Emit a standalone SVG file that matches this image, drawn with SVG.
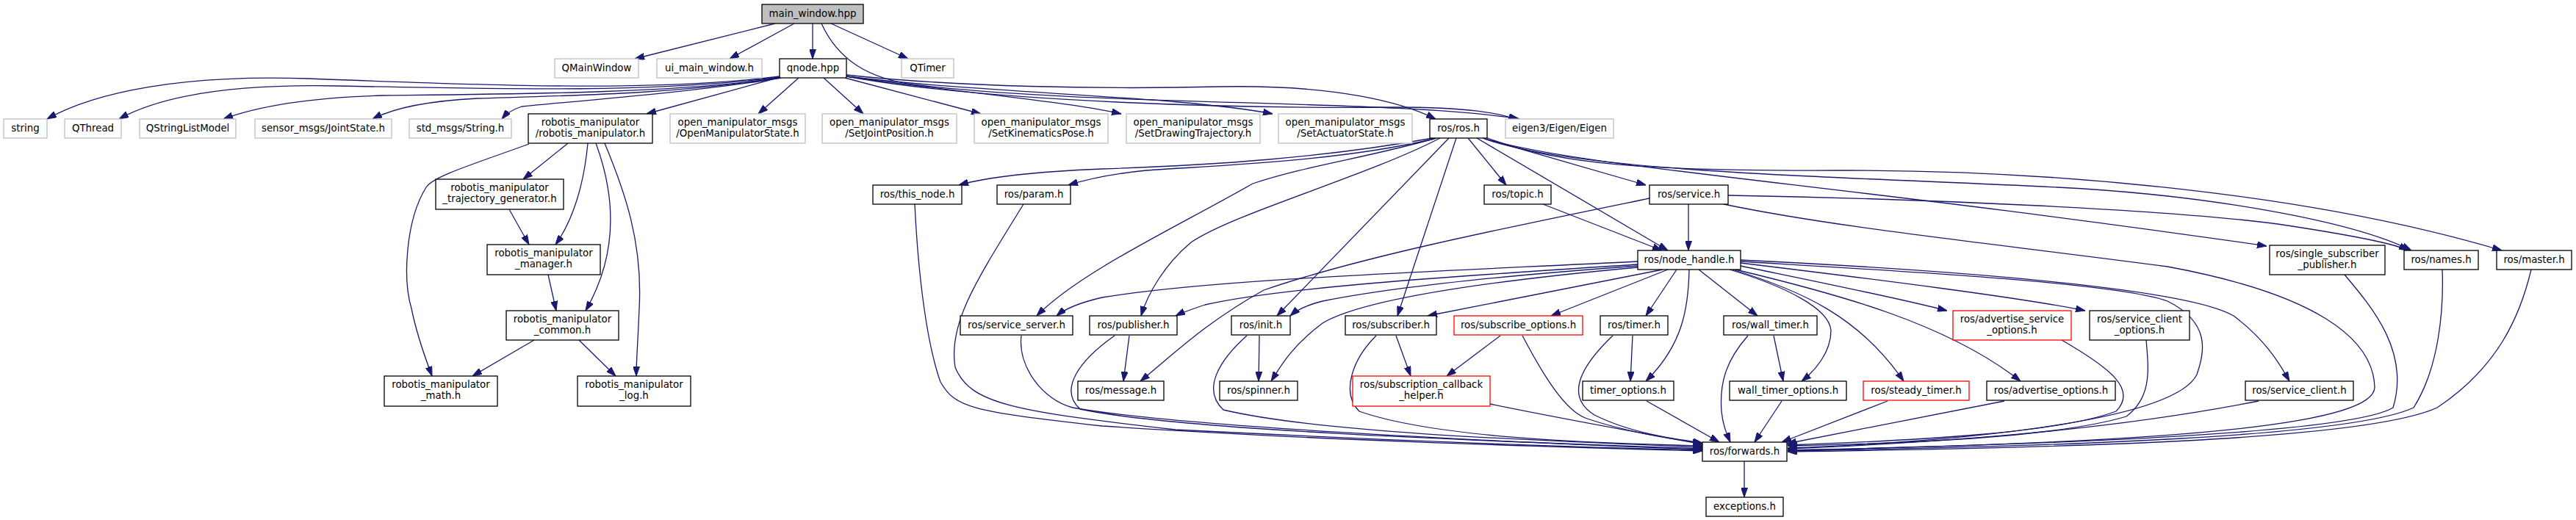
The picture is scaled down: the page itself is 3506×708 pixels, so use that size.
<svg xmlns="http://www.w3.org/2000/svg" width="3506" height="708" viewBox="0 0 3506 708">
<defs>
<marker id="a" viewBox="0 0 13 9" refX="13" refY="4.5" markerWidth="13" markerHeight="9" markerUnits="userSpaceOnUse" orient="auto">
<path d="M0,0 L13,4.5 L0,9 z" fill="#191970" stroke="#191970" stroke-width="1"/>
</marker>
</defs>
<style>
rect{fill:#ffffff;stroke:#000000;stroke-width:1.3}
.g rect{stroke:#bfbfbf}
.r rect{stroke:#ff0000}
.m rect{fill:#bfbfbf}
text{font-family:"DejaVu Sans","Liberation Sans",sans-serif;font-size:13.33px;text-anchor:middle;fill:#000000}
#edges path{fill:none;stroke:#191970;stroke-width:1.3;marker-end:url(#a)}
</style>
<rect x="0" y="0" width="3506" height="708" style="fill:#ffffff;stroke:none"/>
<g id="edges">
<path d="M1055,32 L864,80"/>
<path d="M1081,32 L993,80"/>
<path d="M1106,32 L1106,80"/>
<path d="M1131,32 L1236,80"/>
<path d="M1118,32 C1140,80 1180,108 1250,116 C1500,145 1900,135 2068,162"/>
<path d="M1152,102 C1300,118 1500,122 1660,118 C1820,115 1910,140 1954,162"/>
<path d="M1152,104 C1350,140 1700,148 1900,146 C2000,146 2040,154 2066,163"/>
<path d="M1087,106 L1032,155"/>
<path d="M1121,106 L1175,155"/>
<path d="M1150,106 L1335,155"/>
<path d="M1152,104 C1300,125 1450,138 1526,155"/>
<path d="M1152,104 C1350,128 1600,130 1732,155"/>
<path d="M1062,105 L880,155"/>
<path d="M1061,104 C900,124 700,118 420,107 C250,101 130,125 64,162"/>
<path d="M1061,105 C900,126 700,122 460,117 C320,114 220,130 162,162"/>
<path d="M1061,106 C920,127 700,128 520,130 C420,133 350,145 304,162"/>
<path d="M1062,106 C920,128 780,130 650,134 C570,138 530,150 507,162"/>
<path d="M1063,106 C950,125 780,138 710,145 C695,150 688,156 683,162"/>
<path d="M773,195 L712,244"/>
<path d="M720,196 C640,225 590,240 580,255 C552,300 548,380 560,420 C568,460 580,490 588,512"/>
<path d="M800,195 C795,250 780,300 756,333"/>
<path d="M811,195 C835,260 845,340 797,423"/>
<path d="M823,195 C850,260 875,330 870,420 C868,470 866,490 866,512"/>
<path d="M693,285 L720,333"/>
<path d="M746,374 L757,423"/>
<path d="M727,463 L643,512"/>
<path d="M788,463 L838,512"/>
<path d="M1950,188 C1800,215 1650,225 1500,230 C1400,234 1340,242 1305,252"/>
<path d="M1952,189 C1820,220 1660,225 1560,232 C1510,237 1480,244 1454,252"/>
<path d="M1955,188 C1860,215 1780,225 1705,250 C1600,310 1470,370 1411,430"/>
<path d="M1960,188 C1860,240 1680,290 1621,330 C1585,360 1562,400 1553,430"/>
<path d="M1972,188 L1738,430"/>
<path d="M1982,188 L1902,430"/>
<path d="M1998,188 L2050,252"/>
<path d="M2010,188 L2270,341"/>
<path d="M2018,188 L2240,252"/>
<path d="M2022,189 C2150,228 2500,250 3085,335"/>
<path d="M2022,187 C2120,225 2250,233 2500,232 C2800,231 3150,265 3405,341"/>
<path d="M2020,189 C2150,235 2500,240 2800,255 C3000,265 3200,300 3282,341"/>
<path d="M2298,278 L2298,341"/>
<path d="M2245,270 C2050,310 1850,350 1720,395 C1640,440 1600,480 1552,519"/>
<path d="M2352,266 C2600,270 2950,285 3100,305 C3200,320 3260,332 3278,341"/>
<path d="M2346,278 C2500,310 2700,330 2950,363 C3150,400 3230,460 3232,527 C3232,575 3000,602 2433,613"/>
<path d="M2100,278 L2262,341"/>
<path d="M2229,356 C1950,370 1650,380 1500,405 C1470,412 1450,420 1438,430"/>
<path d="M2229,360 C2000,375 1750,390 1640,415 C1625,420 1610,425 1600,430"/>
<path d="M2229,362 C2050,375 1900,390 1800,410 C1780,415 1765,422 1756,430"/>
<path d="M2229,364 C2000,385 1850,410 1800,440 C1760,470 1745,495 1730,519"/>
<path d="M2263,367 L1943,430"/>
<path d="M2270,367 L2111,430"/>
<path d="M2282,367 L2240,430"/>
<path d="M2299,367 C2298,420 2290,470 2240,519"/>
<path d="M2312,367 L2392,430"/>
<path d="M2354,367 C2430,390 2490,420 2492,450 C2492,480 2470,505 2452,519"/>
<path d="M2358,367 C2450,395 2530,430 2591,519"/>
<path d="M2362,367 C2500,400 2650,440 2750,519"/>
<path d="M2369,362 C2480,385 2580,405 2650,423"/>
<path d="M2369,358 C2550,380 2750,405 2838,423"/>
<path d="M2369,356 C2600,370 2880,385 2950,410 C3010,440 3000,480 2990,510 C2960,570 2700,600 2433,610"/>
<path d="M2369,354 C2700,370 2980,395 3040,430 C3080,460 3100,490 3116,519"/>
<path d="M1245,278 C1250,380 1262,470 1280,520 C1300,555 1320,560 1500,580 C1800,600 2100,608 2317,614"/>
<path d="M1393,278 C1330,380 1290,440 1300,500 C1320,550 1380,560 1600,585 C1900,600 2100,608 2317,613"/>
<path d="M1390,457 C1385,500 1420,545 1460,555 C1600,580 2000,600 2317,612"/>
<path d="M1517,457 C1470,490 1440,530 1470,557 C1600,585 2000,600 2317,611"/>
<path d="M1537,457 L1529,519"/>
<path d="M1697,457 C1660,490 1635,530 1665,558 C1800,590 2100,600 2317,609"/>
<path d="M1714,457 L1713,519"/>
<path d="M1873,457 C1840,490 1825,535 1850,560 C1950,595 2150,603 2317,607"/>
<path d="M1900,457 L1920,512"/>
<path d="M2042,457 L1969,512"/>
<path d="M2072,457 C2100,510 2130,560 2160,570 C2220,590 2280,598 2317,604"/>
<path d="M2028,550 C2150,575 2250,592 2317,605"/>
<path d="M2195,457 C2150,500 2130,540 2170,565 C2220,590 2280,598 2317,603"/>
<path d="M2222,457 L2219,519"/>
<path d="M2241,546 L2340,602"/>
<path d="M2379,457 C2350,490 2340,520 2343,560 C2345,580 2350,590 2355,602"/>
<path d="M2414,457 L2427,519"/>
<path d="M2425,546 L2388,602"/>
<path d="M2569,546 L2425,602"/>
<path d="M2728,546 L2432,604"/>
<path d="M2806,463 C2870,500 2910,530 2880,560 C2800,590 2600,600 2433,606"/>
<path d="M2921,463 C2924,500 2930,540 2894,567 C2800,595 2600,604 2433,607"/>
<path d="M3074,546 C2900,580 2700,600 2433,611"/>
<path d="M3191,374 C3230,420 3280,480 3257,555 C3200,590 2800,605 2433,613"/>
<path d="M3324,367 C3326,420 3320,500 3285,555 C3200,595 2800,608 2433,614"/>
<path d="M3445,367 C3430,430 3400,500 3317,555 C3220,600 2800,610 2433,615"/>
<path d="M2374,628 L2374,677"/>
</g>
<g id="main_window" class="m"><rect x="1037" y="6" width="138" height="26"/><text x="1106" y="23">main_window.hpp</text></g>
<g id="QMainWindow" class="g"><rect x="755" y="80" width="114" height="26"/><text x="812" y="97">QMainWindow</text></g>
<g id="ui_main_window" class="g"><rect x="894" y="80" width="143" height="26"/><text x="965.5" y="97">ui_main_window.h</text></g>
<g id="qnode"><rect x="1061" y="80" width="91" height="26"/><text x="1106.5" y="97">qnode.hpp</text></g>
<g id="QTimer" class="g"><rect x="1227" y="80" width="71" height="26"/><text x="1262.5" y="97">QTimer</text></g>
<g id="string" class="g"><rect x="5" y="162" width="59" height="26"/><text x="34.5" y="179">string</text></g>
<g id="QThread" class="g"><rect x="88" y="162" width="77" height="26"/><text x="126.5" y="179">QThread</text></g>
<g id="QStringListModel" class="g"><rect x="190" y="162" width="131" height="26"/><text x="255.5" y="179">QStringListModel</text></g>
<g id="JointState" class="g"><rect x="347" y="162" width="186" height="26"/><text x="440" y="179">sensor_msgs/JointState.h</text></g>
<g id="StringH" class="g"><rect x="557" y="162" width="139" height="26"/><text x="626.5" y="179">std_msgs/String.h</text></g>
<g id="robotis_manipulator"><rect x="719" y="155" width="169" height="40"/><text x="803.5" y="170.5">robotis_manipulator</text><text x="803.5" y="185.5">/robotis_manipulator.h</text></g>
<g id="OpenManipulatorState" class="g"><rect x="912" y="155" width="184" height="40"/><text x="1004" y="170.5">open_manipulator_msgs</text><text x="1004" y="185.5">/OpenManipulatorState.h</text></g>
<g id="SetJointPosition" class="g"><rect x="1119" y="155" width="183" height="40"/><text x="1210.5" y="170.5">open_manipulator_msgs</text><text x="1210.5" y="185.5">/SetJointPosition.h</text></g>
<g id="SetKinematicsPose" class="g"><rect x="1326" y="155" width="182" height="40"/><text x="1417" y="170.5">open_manipulator_msgs</text><text x="1417" y="185.5">/SetKinematicsPose.h</text></g>
<g id="SetDrawingTrajectory" class="g"><rect x="1533" y="155" width="182" height="40"/><text x="1624" y="170.5">open_manipulator_msgs</text><text x="1624" y="185.5">/SetDrawingTrajectory.h</text></g>
<g id="SetActuatorState" class="g"><rect x="1740" y="155" width="182" height="40"/><text x="1831" y="170.5">open_manipulator_msgs</text><text x="1831" y="185.5">/SetActuatorState.h</text></g>
<g id="ros_h"><rect x="1946" y="162" width="78" height="26"/><text x="1985" y="179">ros/ros.h</text></g>
<g id="eigen" class="g"><rect x="2049" y="162" width="147" height="26"/><text x="2122.5" y="179">eigen3/Eigen/Eigen</text></g>
<g id="trajectory_generator"><rect x="593" y="244" width="174" height="41"/><text x="680" y="260">robotis_manipulator</text><text x="680" y="275">_trajectory_generator.h</text></g>
<g id="manager"><rect x="663" y="333" width="154" height="41"/><text x="740" y="349">robotis_manipulator</text><text x="740" y="364">_manager.h</text></g>
<g id="common"><rect x="689" y="423" width="153" height="40"/><text x="765.5" y="438.5">robotis_manipulator</text><text x="765.5" y="453.5">_common.h</text></g>
<g id="math"><rect x="523" y="512" width="154" height="41"/><text x="600" y="528">robotis_manipulator</text><text x="600" y="543">_math.h</text></g>
<g id="log"><rect x="786" y="512" width="154" height="41"/><text x="863" y="528">robotis_manipulator</text><text x="863" y="543">_log.h</text></g>
<g id="this_node"><rect x="1188" y="252" width="121" height="26"/><text x="1248.5" y="269">ros/this_node.h</text></g>
<g id="param"><rect x="1357" y="252" width="100" height="26"/><text x="1407" y="269">ros/param.h</text></g>
<g id="topic"><rect x="2020" y="252" width="91" height="26"/><text x="2065.5" y="269">ros/topic.h</text></g>
<g id="service"><rect x="2245" y="252" width="107" height="26"/><text x="2298.5" y="269">ros/service.h</text></g>
<g id="node_handle"><rect x="2229" y="341" width="140" height="26"/><text x="2299" y="358">ros/node_handle.h</text></g>
<g id="service_server"><rect x="1307" y="430" width="153" height="26"/><text x="1383.5" y="447">ros/service_server.h</text></g>
<g id="publisher"><rect x="1483" y="430" width="119" height="26"/><text x="1542.5" y="447">ros/publisher.h</text></g>
<g id="init"><rect x="1676" y="430" width="80" height="26"/><text x="1716" y="447">ros/init.h</text></g>
<g id="subscriber"><rect x="1831" y="430" width="124" height="26"/><text x="1893" y="447">ros/subscriber.h</text></g>
<g id="subscribe_options" class="r"><rect x="1979" y="430" width="175" height="26"/><text x="2066.5" y="447">ros/subscribe_options.h</text></g>
<g id="timer"><rect x="2178" y="430" width="92" height="26"/><text x="2224" y="447">ros/timer.h</text></g>
<g id="wall_timer"><rect x="2346" y="430" width="127" height="26"/><text x="2409.5" y="447">ros/wall_timer.h</text></g>
<g id="advertise_service_options" class="r"><rect x="2658" y="423" width="161" height="40"/><text x="2738.5" y="438.5">ros/advertise_service</text><text x="2738.5" y="453.5">_options.h</text></g>
<g id="service_client_options"><rect x="2844" y="423" width="136" height="40"/><text x="2912" y="438.5">ros/service_client</text><text x="2912" y="453.5">_options.h</text></g>
<g id="single_subscriber_publisher"><rect x="3089" y="334" width="157" height="40"/><text x="3167.5" y="349.5">ros/single_subscriber</text><text x="3167.5" y="364.5">_publisher.h</text></g>
<g id="names"><rect x="3272" y="341" width="101" height="26"/><text x="3322.5" y="358">ros/names.h</text></g>
<g id="master"><rect x="3398" y="341" width="102" height="26"/><text x="3449" y="358">ros/master.h</text></g>
<g id="message"><rect x="1467" y="519" width="117" height="26"/><text x="1525.5" y="536">ros/message.h</text></g>
<g id="spinner"><rect x="1660" y="519" width="106" height="26"/><text x="1713" y="536">ros/spinner.h</text></g>
<g id="subscription_callback_helper" class="r"><rect x="1841" y="512" width="187" height="41"/><text x="1934.5" y="528">ros/subscription_callback</text><text x="1934.5" y="543">_helper.h</text></g>
<g id="timer_options"><rect x="2154" y="519" width="124" height="26"/><text x="2216" y="536">timer_options.h</text></g>
<g id="wall_timer_options"><rect x="2354" y="519" width="159" height="26"/><text x="2433.5" y="536">wall_timer_options.h</text></g>
<g id="steady_timer" class="r"><rect x="2536" y="519" width="144" height="26"/><text x="2608" y="536">ros/steady_timer.h</text></g>
<g id="advertise_options"><rect x="2704" y="519" width="175" height="26"/><text x="2791.5" y="536">ros/advertise_options.h</text></g>
<g id="service_client"><rect x="3056" y="519" width="147" height="26"/><text x="3129.5" y="536">ros/service_client.h</text></g>
<g id="forwards"><rect x="2317" y="602" width="115" height="26"/><text x="2374.5" y="619">ros/forwards.h</text></g>
<g id="exceptions"><rect x="2322" y="677" width="105" height="26"/><text x="2374.5" y="694">exceptions.h</text></g>
</svg>
